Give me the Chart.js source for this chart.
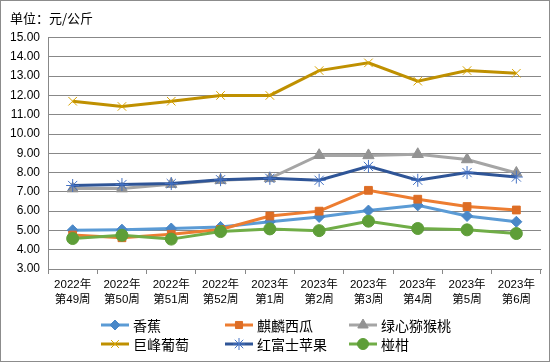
<!DOCTYPE html>
<html>
<head>
<meta charset="utf-8">
<script src="https://cdn.jsdelivr.net/npm/chart.js"></script>
<style>
html,body{margin:0;padding:0;background:#fff;}
#wrap{width:550px;height:362px;position:relative;}
</style>
</head>
<body>
<div id="wrap"><canvas id="c" width="550" height="362"></canvas></div>
<script>
const categories = [
  ['2022年','第49周'],['2022年','第50周'],['2022年','第51周'],['2022年','第52周'],
  ['2023年','第1周'],['2023年','第2周'],['2023年','第3周'],['2023年','第4周'],
  ['2023年','第5周'],['2023年','第6周']
];
const seriesNames = ['香蕉','麒麟西瓜','绿心猕猴桃','巨峰葡萄','红富士苹果','椪柑'];
const banana     = [5.01, 5.04, 5.10, 5.18, 5.45, 5.70, 6.03, 6.30, 5.75, 5.45];
const watermelon = [4.76, 4.62, 4.80, 5.05, 5.75, 6.00, 7.08, 6.62, 6.24, 6.06];
const kiwi       = [7.17, 7.17, 7.40, 7.60, 7.70, 8.90, 8.89, 8.95, 8.68, 7.98];
const grape      = [11.70, 11.43, 11.70, 12.00, 12.00, 13.29, 13.69, 12.74, 13.29, 13.15];
const apple      = [7.33, 7.38, 7.43, 7.63, 7.70, 7.60, 8.32, 7.60, 8.00, 7.77];
const citrus     = [4.58, 4.75, 4.55, 4.94, 5.08, 4.99, 5.48, 5.10, 5.03, 4.84];
const yTicks = [3,4,5,6,7,8,9,10,11,12,13,14,15];

const seriesData = [banana, watermelon, kiwi, grape, apple, citrus];
const styles = [
  {line:'#5B9BD5', fill:'#4A88C8', stroke:'#4A88C8', ps:'rectRot', r:5.5, bw:1},
  {line:'#ED7D31', fill:'#DD6D25', stroke:'#DD6D25', ps:'rect', r:5.5, bw:1},
  {line:'#A5A5A5', fill:'#939393', stroke:'#939393', ps:'triangle', r:6.5, bw:1},
  {line:'#BF9000', fill:'#D9A400', stroke:'#D9A400', ps:'crossRot', r:6, bw:1},
  {line:'#2F5597', fill:'#4472C4', stroke:'#4472C4', ps:'star', r:6.5, bw:1},
  {line:'#70AD47', fill:'#5E9E38', stroke:'#5E9E38', ps:'circle', r:6, bw:1}
];

const datasets = seriesNames.map((n,i)=>({
  label:n,
  data:seriesData[i],
  borderColor:styles[i].line,
  borderWidth:3,
  backgroundColor:styles[i].fill,
  pointStyle:styles[i].ps,
  pointRadius:styles[i].r,
  pointBorderWidth:styles[i].bw,
  pointBorderColor:styles[i].stroke,
  pointBackgroundColor:styles[i].fill,
  tension:0,
  order: 10 - i
}));

const frame = {
  id:'frame',
  beforeDraw(chart){
    const ctx = chart.ctx;
    ctx.save();
    ctx.fillStyle='#fff';
    ctx.fillRect(0,0,chart.width,chart.height);
    ctx.strokeStyle='#8c8c8c';
    ctx.lineWidth=1;
    ctx.strokeRect(0.5,0.5,chart.width-1,chart.height-1);
    ctx.restore();
  }
};

const gridLegend = {
  id:'gridLegend',
  afterDraw(chart){
    const ctx = chart.ctx;
    const colX = [101, 225, 349];
    const rowY = [325, 344];
    ctx.save();
    chart.data.datasets.forEach((ds,i)=>{
      const st = styles[i];
      const x = colX[i%3], y = rowY[Math.floor(i/3)];
      ctx.strokeStyle = st.line;
      ctx.lineWidth = 3;
      ctx.beginPath();
      ctx.moveTo(x, y); ctx.lineTo(x+28, y);
      ctx.stroke();
      ctx.fillStyle = st.fill;
      ctx.strokeStyle = st.stroke;
      ctx.lineWidth = st.bw;
      Chart.helpers.drawPoint(ctx, {pointStyle:st.ps, radius:st.r - 0.5, borderWidth:st.bw, rotation:0}, x+14, y);
      ctx.fillStyle = '#000';
      ctx.font = '14px "Noto Sans CJK SC"';
      ctx.textBaseline = 'middle';
      ctx.textAlign = 'left';
      ctx.fillText(ds.label, x+32, y+1);
    });
    ctx.restore();
  }
};

new Chart(document.getElementById('c'), {
  type:'line',
  data:{labels:categories, datasets},
  plugins:[frame, gridLegend],
  options:{
    responsive:false,
    animation:false,
    devicePixelRatio:1,
    layout:{padding:{left:10, right:9, top:0, bottom:52}},
    plugins:{
      legend:{display:false},
      tooltip:{enabled:false},
      title:{
        display:true,
        text:'单位：元/公斤',
        align:'start',
        color:'#000',
        font:{family:'"Noto Sans CJK SC"', size:13, weight:'normal', lineHeight:1.2},
        padding:{top:10, bottom:12}
      }
    },
    scales:{
      x:{
        offset:true,
        grid:{offset:true, drawOnChartArea:false, drawTicks:true, tickLength:5, color:'#888'},
        border:{display:true, color:'#888'},
        ticks:{color:'#000', padding:3, maxRotation:0, autoSkip:false,
          font:{family:'"Liberation Sans","Noto Sans CJK SC"', size:11.5, lineHeight:'15px'}}
      },
      y:{
        min:3, max:15,
        afterBuildTicks(scale){ scale.ticks = yTicks.map(v=>({value:v})); },
        afterFit(scale){ scale.width = 38; },
        grid:{color:'#888', drawTicks:false, lineWidth:1},
        border:{display:true, color:'#888'},
        ticks:{color:'#000', padding:8, callback:v=>Number(v).toFixed(2),
          font:{family:'"Liberation Sans","Noto Sans CJK SC"', size:12}}
      }
    }
  }
});
</script>
</body>
</html>
